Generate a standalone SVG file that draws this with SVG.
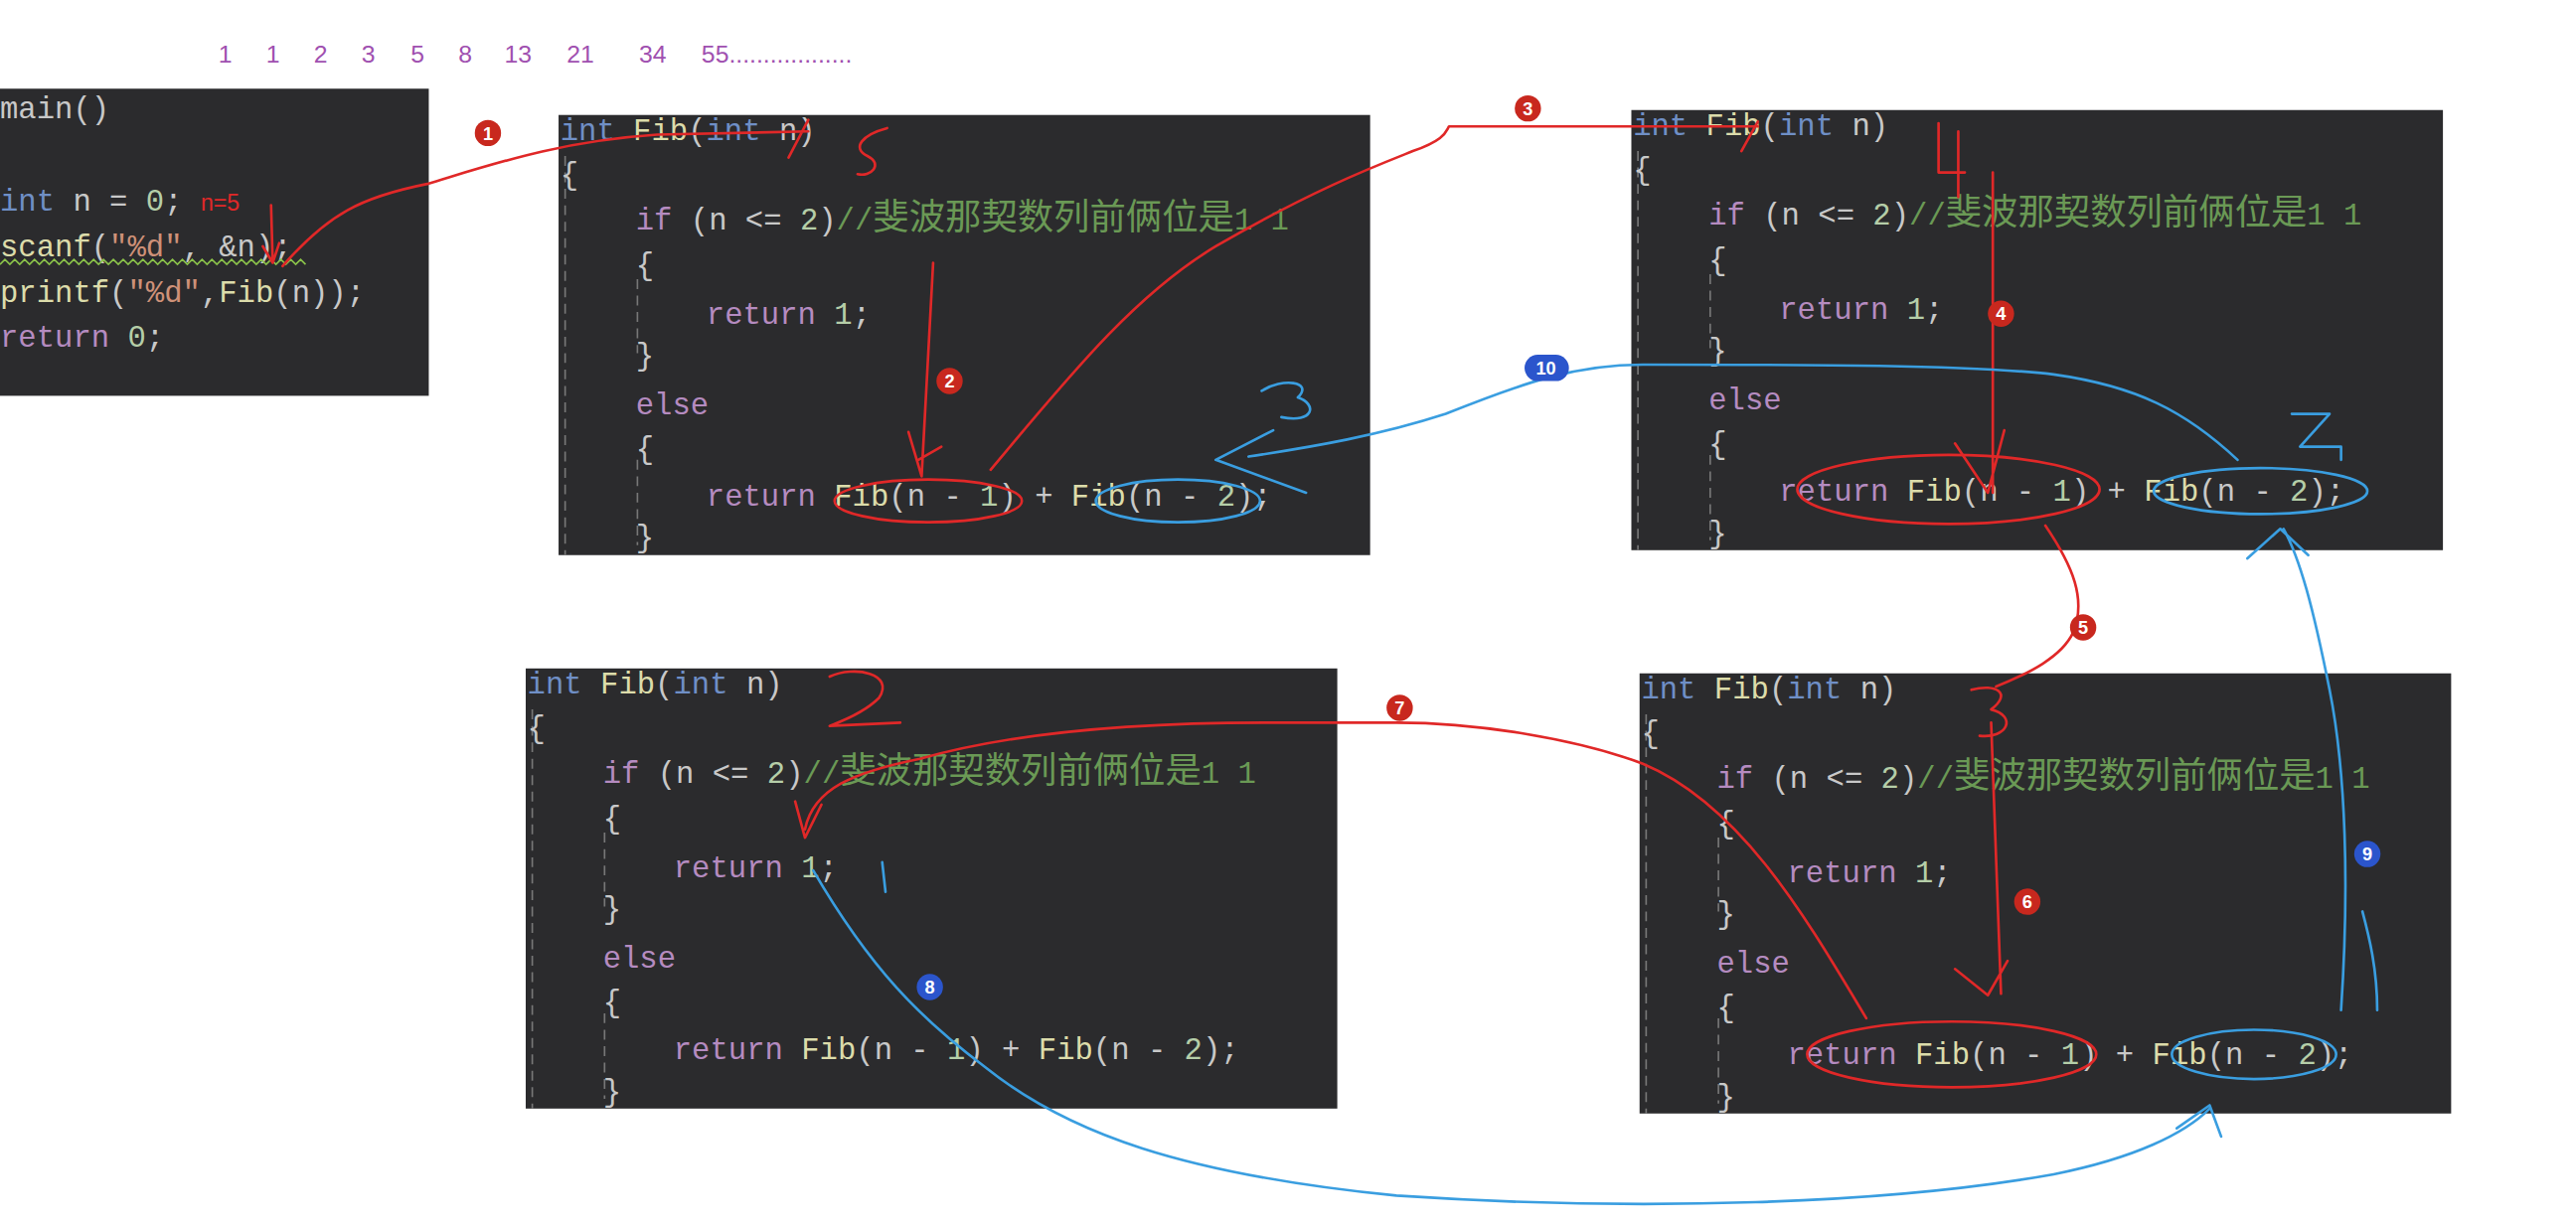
<svg xmlns="http://www.w3.org/2000/svg" width="2592" height="1234" viewBox="0 0 2592 1234">
<style>
.bg{fill:#2b2b2d}
.t{font-family:"Liberation Mono","Noto Sans CJK SC",monospace;font-size:18.5px;fill:#c8c8c8}
.kw{fill:#6f8fc6}.fn{fill:#dcdcaa}.pu{fill:#b58bc0}.nm{fill:#b5cea8}.cm{fill:#6a9955}.st{fill:#ce9178}
.cj{font-size:22px}
.g{stroke:#777;stroke-width:1;stroke-dasharray:6 4}
.r{fill:none;stroke:#e02828;stroke-width:1.6;stroke-linecap:round;stroke-linejoin:round}
.b{fill:none;stroke:#3a9ee0;stroke-width:1.6;stroke-linecap:round;stroke-linejoin:round}
.cr{fill:#c8281e}.cb{fill:#2b55cc}
.n{font-family:"Liberation Sans",sans-serif;font-size:11px;font-weight:bold;fill:#fff;text-anchor:middle}
.seq{font-family:"Liberation Sans",sans-serif;font-size:15px;fill:#a050b0}
</style>
<defs>
<g id="code">
<rect class="bg" width="494" height="268"/>
<line class="g" x1="4" y1="25" x2="4" y2="268"/>
<line class="g" x1="48" y1="100" x2="48" y2="145"/>
<line class="g" x1="48" y1="210" x2="48" y2="262"/>
<text class="t" x="1" y="15"><tspan class="kw">int</tspan> <tspan class="fn">Fib</tspan>(<tspan class="kw">int</tspan> n)</text>
<text class="t" x="1" y="42">{</text>
<text class="t" x="47" y="70"><tspan class="pu">if</tspan> (n &lt;= <tspan class="nm">2</tspan>)<tspan class="cm">//<tspan class="cj">斐波那契数列前俩位是</tspan>1 1</tspan></text>
<text class="t" x="47" y="97">{</text>
<text class="t" x="90" y="127"><tspan class="pu">return</tspan> <tspan class="nm">1</tspan>;</text>
<text class="t" x="47" y="152">}</text>
<text class="t" x="47" y="182"><tspan class="pu">else</tspan></text>
<text class="t" x="47" y="209">{</text>
<text class="t" x="90" y="238"><tspan class="pu">return</tspan> <tspan class="fn">Fib</tspan>(n - <tspan class="nm">1</tspan>) + <tspan class="fn">Fib</tspan>(n - <tspan class="nm">2</tspan>);</text>
<text class="t" x="47" y="263">}</text>
</g>
</defs>
<rect width="2592" height="1234" fill="#fff"/>
<g transform="scale(1.65306)">
<g class="seq">
<text x="133" y="38">1</text><text x="162" y="38">1</text><text x="191" y="38">2</text><text x="220" y="38">3</text><text x="250" y="38">5</text><text x="279" y="38">8</text><text x="307" y="38">13</text><text x="345" y="38">21</text><text x="389" y="38">34</text><text x="427" y="38">55..................</text>
</g>
<g id="main">
<rect class="bg" x="0" y="54" width="261" height="187"/>
<text class="t" x="0" y="72">main()</text>
<text class="t" x="0" y="128"><tspan class="kw">int</tspan> n = <tspan class="nm">0</tspan>; <tspan style="fill:#e02828;font-family:'Liberation Sans';font-size:14px">n=5</tspan></text>
<text class="t" x="0" y="156"><tspan class="fn">scanf</tspan>(<tspan class="st">"%d"</tspan>, &amp;n);</text>
<path d="M0 161 l3 -3 l3 3 l3 -3 l3 3 l3 -3 l3 3 l3 -3 l3 3 l3 -3 l3 3 l3 -3 l3 3 l3 -3 l3 3 l3 -3 l3 3 l3 -3 l3 3 l3 -3 l3 3 l3 -3 l3 3 l3 -3 l3 3 l3 -3 l3 3 l3 -3 l3 3 l3 -3 l3 3 l3 -3 l3 3 l3 -3 l3 3 l3 -3 l3 3 l3 -3 l3 3 l3 -3 l3 3 l3 -3 l3 3 l3 -3 l3 3 l3 -3 l3 3 l3 -3 l3 3 l3 -3 l3 3 l3 -3 l3 3 l3 -3 l3 3 l3 -3 l3 3 l3 -3 l3 3 l3 -3 l3 3 l3 -3 l3 3" fill="none" stroke="#8bc34a" stroke-width="1"/>
<text class="t" x="0" y="184"><tspan class="fn">printf</tspan>(<tspan class="st">"%d"</tspan>,<tspan class="fn">Fib</tspan>(n));</text>
<text class="t" x="0" y="211"><tspan class="pu">return</tspan> <tspan class="nm">0</tspan>;</text>
</g>
<g id="fib5"><use href="#code" x="340" y="70"/></g>
<g id="fib4"><use href="#code" x="993" y="67"/></g>
<g id="fib2"><use href="#code" x="320" y="407"/></g>
<g id="fib3"><use href="#code" x="998" y="410"/></g>
<g id="connectors">
<path class="r" d="M165 125 L166 160 M160 150 L166 160 L170 148"/>
<path class="r" d="M172 162 C200 130 220 120 260 112 C300 100 340 86 400 82 L492 80 M492 73 L480 96"/>
<path class="r" d="M540 78 C525 82 518 90 528 95 C538 100 530 108 522 106"/>
<path class="r" d="M568 160 L561 290 M553 263 L561 290 M559 280 L573 272"/>
<path class="r" d="M603 286 C650 230 690 180 740 150 C800 115 840 100 860 92 C880 85 880 80 882 77 L1070 77 M1070 74 L1060 92"/>
<path class="r" d="M1180 75 L1180 105 L1196 105 M1192 80 L1192 120"/>
<path class="r" d="M1213 105 L1213 300 M1190 270 L1210 300 L1220 262"/>
<path class="r" d="M1245 320 C1262 345 1270 365 1262 385 C1255 400 1235 410 1215 418"/>
<path class="r" d="M1200 420 C1215 416 1225 422 1212 432 C1228 436 1222 450 1205 448"/>
<path class="r" d="M1212 440 L1218 605 M1190 590 L1210 606 L1222 585"/>
<path class="r" d="M1136 620 C1100 560 1060 490 1000 465 C960 450 900 440 850 440 L770 440 C700 440 620 445 560 462 C520 470 495 480 490 505 M484 488 L490 510 L500 490"/>
<path class="r" d="M505 412 C520 405 545 410 535 425 C525 435 510 440 505 442 L548 440"/>
<path class="b" d="M495 530 C530 590 560 620 600 650 C650 690 720 715 850 728 C1000 738 1150 733 1250 715 C1300 705 1330 690 1345 675 M1325 687 L1345 673 L1352 692"/>
<path class="b" d="M537 525 L539 543"/>
<path class="b" d="M1425 615 C1430 540 1428 470 1418 420 C1408 370 1400 340 1390 322 M1368 340 L1388 322 L1405 338"/>
<path class="b" d="M1438 555 C1442 570 1447 590 1447 615"/>
<path class="b" d="M1362 280 C1330 250 1300 235 1250 228 C1200 222 1100 222 1000 222 C960 222 930 232 880 252 C840 265 800 272 760 278 M775 262 L740 280 L795 300"/>
<path class="b" d="M768 238 C780 230 800 232 790 242 C802 246 800 258 780 254"/>
<path class="b" d="M1395 252 L1418 252 L1400 272 L1425 272 L1425 280"/>
<ellipse class="r" cx="565" cy="305" rx="57" ry="13"/>
<ellipse class="b" cx="717" cy="305" rx="50" ry="13"/>
<ellipse class="r" cx="1186" cy="298" rx="92" ry="21"/>
<ellipse class="b" cx="1376" cy="299" rx="65" ry="14"/>
<ellipse class="r" cx="1188" cy="642" rx="88" ry="20"/>
<ellipse class="b" cx="1372" cy="642" rx="50" ry="15"/>
</g>
<g id="badges">
<circle class="cr" cx="297" cy="81" r="8"/><text class="n" x="297" y="85">1</text>
<circle class="cr" cx="578" cy="232" r="8"/><text class="n" x="578" y="236">2</text>
<circle class="cr" cx="930" cy="66" r="8"/><text class="n" x="930" y="70">3</text>
<circle class="cr" cx="1218" cy="191" r="8"/><text class="n" x="1218" y="195">4</text>
<circle class="cr" cx="1268" cy="382" r="8"/><text class="n" x="1268" y="386">5</text>
<circle class="cr" cx="1234" cy="549" r="8"/><text class="n" x="1234" y="553">6</text>
<circle class="cr" cx="852" cy="431" r="8"/><text class="n" x="852" y="435">7</text>
<circle class="cb" cx="566" cy="601" r="8"/><text class="n" x="566" y="605">8</text>
<circle class="cb" cx="1441" cy="520" r="8"/><text class="n" x="1441" y="524">9</text>
<rect class="cb" x="928" y="216" width="27" height="16" rx="8"/><text class="n" x="941" y="228">10</text>
</g>
</g>
</svg>
